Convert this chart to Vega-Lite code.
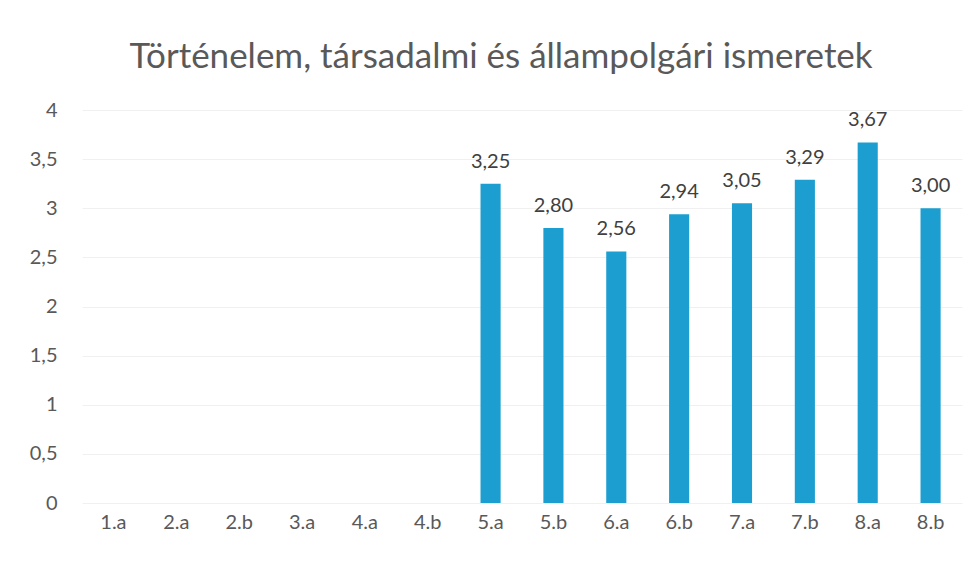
{
  "$schema": "https://vega.github.io/schema/vega-lite/v6.json",
  "autosize": "none",
  "width": 880,
  "height": 393,
  "padding": {"left": 82, "top": 110, "right": 14, "bottom": 59},
  "background": "white",
  "config": {
    "locale": {"number": {"decimal": ",", "thousands": " ", "grouping": [3], "currency": ["", " Ft"]}},
    "view": {"stroke": null},
    "font": "Lato"
  },
  "title": {
    "text": "Történelem, társadalmi és állampolgári ismeretek",
    "font": "Lato",
    "fontSize": 35,
    "fontWeight": "normal",
    "color": "#595959",
    "anchor": "middle",
    "dx": -21,
    "offset": 25
  },
  "data": {
    "values": [
      {"osztaly": "1.a", "value": null},
      {"osztaly": "2.a", "value": null},
      {"osztaly": "2.b", "value": null},
      {"osztaly": "3.a", "value": null},
      {"osztaly": "4.a", "value": null},
      {"osztaly": "4.b", "value": null},
      {"osztaly": "5.a", "value": 3.25},
      {"osztaly": "5.b", "value": 2.80},
      {"osztaly": "6.a", "value": 2.56},
      {"osztaly": "6.b", "value": 2.94},
      {"osztaly": "7.a", "value": 3.05},
      {"osztaly": "7.b", "value": 3.29},
      {"osztaly": "8.a", "value": 3.67},
      {"osztaly": "8.b", "value": 3.00}
    ]
  },
  "encoding": {
    "x": {
      "field": "osztaly",
      "type": "nominal",
      "sort": null,
      "scale": {
        "domain": ["1.a", "2.a", "2.b", "3.a", "4.a", "4.b", "5.a", "5.b", "6.a", "6.b", "7.a", "7.b", "8.a", "8.b"],
        "paddingInner": 0.68,
        "paddingOuter": 0.34
      },
      "axis": {
        "title": null,
        "labelAngle": 0,
        "domain": false,
        "ticks": false,
        "labelPadding": 9,
        "labelFontSize": 20,
        "labelColor": "#595959",
        "labelFont": "Lato"
      }
    },
    "y": {
      "field": "value",
      "type": "quantitative",
      "scale": {"domain": [0, 4]},
      "axis": {
        "title": null,
        "values": [0, 0.5, 1, 1.5, 2, 2.5, 3, 3.5, 4],
        "format": "~g",
        "domain": false,
        "ticks": false,
        "labelPadding": 25,
        "labelFontSize": 20,
        "labelColor": "#595959",
        "labelFont": "Lato",
        "gridColor": "#f0f0f0",
        "gridWidth": 1
      }
    }
  },
  "layer": [
    {"mark": {"type": "bar", "color": "#1c9fd0"}},
    {
      "transform": [{"filter": "datum.value != null"}],
      "mark": {"type": "text", "baseline": "bottom", "dy": -12, "fontSize": 20, "color": "#404040", "font": "Lato"},
      "encoding": {"text": {"field": "value", "type": "quantitative", "format": ".2f"}}
    }
  ]
}
